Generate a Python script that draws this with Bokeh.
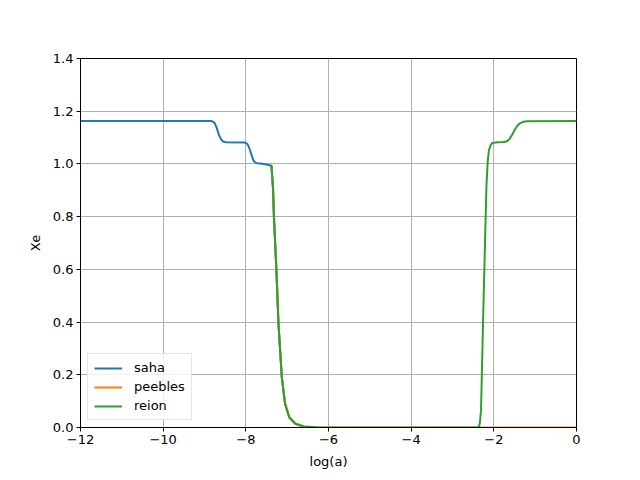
from bokeh.plotting import figure
from bokeh.models import FixedTicker, Legend, LegendItem
from bokeh.embed import file_html
from bokeh.resources import INLINE

# ---- data ----
saha_x = [-12.0, -8.85, -8.80, -8.75, -8.70, -8.65, -8.60, -8.55, -8.48, -8.02, -7.97, -7.93,
          -7.89, -7.85, -7.81, -7.77, -7.72, -7.60, -7.45, -7.40, -7.38, -7.34, -7.32, -7.26,
          -7.21, -7.13, -7.05, -6.95, -6.80, -6.60]
saha_y = [1.163, 1.163, 1.161, 1.154, 1.135, 1.110, 1.093, 1.085, 1.082, 1.081, 1.077, 1.066,
          1.048, 1.028, 1.012, 1.005, 1.003, 1.001, 0.996, 0.994, 0.994, 0.90, 0.798, 0.596,
          0.393, 0.191, 0.090, 0.039, 0.014, 0.004]

peebles_x = [-7.38, -7.34, -7.32, -7.26, -7.21, -7.13, -7.05, -6.95, -6.80, -6.60, -6.30, 0.0]
peebles_y = [0.994, 0.90, 0.798, 0.596, 0.393, 0.191, 0.090, 0.039, 0.014, 0.004, 0.001, 0.0]

reion_x = [-7.38, -7.34, -7.32, -7.26, -7.21, -7.13, -7.05, -6.95, -6.80, -6.60, -6.30,
           -2.40, -2.36, -2.34, -2.31, -2.26, -2.22, -2.18, -2.15, -2.12, -2.08, -2.04,
           -1.90, -1.76, -1.68, -1.62, -1.56, -1.50, -1.44, -1.38, -1.32, -1.25, -1.19, 0.0]
reion_y = [0.994, 0.90, 0.798, 0.596, 0.393, 0.191, 0.090, 0.039, 0.014, 0.004, 0.001,
           0.0, 0.003, 0.015, 0.064, 0.406, 0.659, 0.912, 1.005, 1.051, 1.071, 1.079,
           1.082, 1.083, 1.086, 1.095, 1.110, 1.128, 1.143, 1.153, 1.158, 1.161, 1.162, 1.163]

x_ticks = [-12, -10, -8, -6, -4, -2, 0]
x_tick_labels = ["\u221212", "\u221210", "\u22128", "\u22126", "\u22124", "\u22122", "0"]
y_ticks = [0.0, 0.2, 0.4, 0.6, 0.8, 1.0, 1.2, 1.4]
y_tick_labels = ["0.0", "0.2", "0.4", "0.6", "0.8", "1.0", "1.2", "1.4"]

FONT = "DejaVu Sans"
FS = "13px"

p = figure(frame_width=496, frame_height=369, x_range=(-12, 0), y_range=(0, 1.4),
           output_backend="svg", toolbar_location=None,
           min_border_left=80, min_border_right=56, min_border_top=58, min_border_bottom=45)
p.background_fill_color = "white"
p.border_fill_color = "white"
p.outline_line_color = "black"
p.outline_line_width = 1
p.outline_line_alpha = 1

for ax in (p.xaxis[0], p.yaxis[0]):
    ax.major_label_text_font = FONT
    ax.major_label_text_font_size = FS
    ax.major_label_text_color = "black"
    ax.axis_label_text_font = FONT
    ax.axis_label_text_font_size = FS
    ax.axis_label_text_font_style = "normal"
    ax.axis_label_text_color = "black"
    ax.minor_tick_line_color = None
    ax.major_tick_in = 0
    ax.major_tick_out = 4
    ax.major_tick_line_color = "black"
    ax.axis_line_color = "black"
    ax.major_label_standoff = 3

p.xaxis.axis_label_standoff = 7
p.yaxis.axis_label_standoff = 7

p.xaxis.ticker = FixedTicker(ticks=x_ticks)
p.xaxis.major_label_overrides = {t: l for t, l in zip(x_ticks, x_tick_labels)}
p.yaxis.ticker = FixedTicker(ticks=y_ticks)
p.yaxis.major_label_overrides = {t: l for t, l in zip(y_ticks, y_tick_labels)}
p.xaxis.axis_label = "log(a)"
p.yaxis.axis_label = "Xe"

p.xgrid.grid_line_color = "#b0b0b0"
p.ygrid.grid_line_color = "#b0b0b0"
p.xgrid.grid_line_width = 1
p.ygrid.grid_line_width = 1

r1 = p.line(saha_x, saha_y, line_color="#1f77b4", line_width=2)
r2 = p.line(peebles_x, peebles_y, line_color="#ff7f0e", line_width=2)
r3 = p.line(reion_x, reion_y, line_color="#2ca02c", line_width=2)

legend = Legend(items=[LegendItem(label="saha", renderers=[r1]),
                       LegendItem(label="peebles", renderers=[r2]),
                       LegendItem(label="reion", renderers=[r3])],
                location="bottom_left")
legend.margin = 7
legend.padding = 6
legend.spacing = 4
legend.label_height = 14
legend.glyph_height = 14
legend.glyph_width = 28
legend.label_standoff = 12
legend.label_text_font = FONT
legend.label_text_font_size = FS
legend.label_text_color = "black"
legend.border_line_color = "#cccccc"
legend.border_line_width = 1
legend.background_fill_alpha = 0.8
p.add_layout(legend, "center")

open("out.html", "w").write(file_html(p, INLINE))
